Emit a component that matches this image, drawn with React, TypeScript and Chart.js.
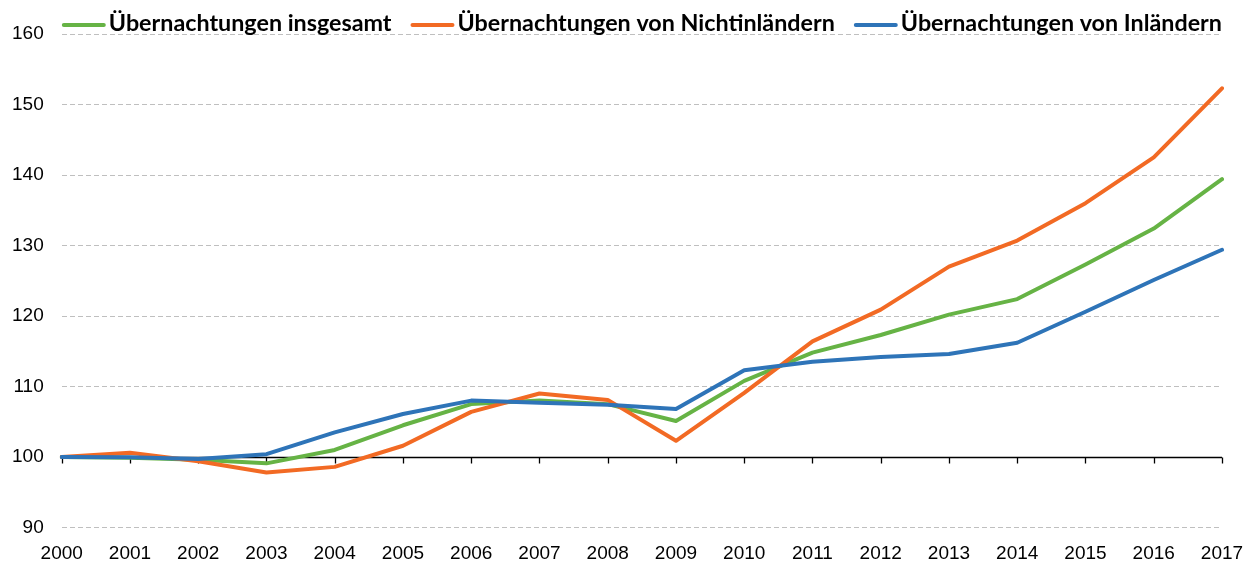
import React, { useEffect, useRef } from "react";
import { Chart, registerables } from "chart.js";

Chart.register(...registerables);

const years = [
  "2000", "2001", "2002", "2003", "2004", "2005", "2006", "2007", "2008",
  "2009", "2010", "2011", "2012", "2013", "2014", "2015", "2016", "2017",
];
const insgesamt = [100, 99.9, 99.6, 99.1, 101.0, 104.5, 107.5, 108.0, 107.5, 105.1, 110.8, 114.8, 117.3, 120.2, 122.4, 127.3, 132.4, 139.4];
const nichtinlaender = [100, 100.6, 99.4, 97.8, 98.6, 101.6, 106.4, 109.0, 108.1, 102.3, 109.1, 116.4, 120.9, 127.0, 130.7, 136.0, 142.5, 152.3];
const inlaender = [100, 99.95, 99.7, 100.4, 103.5, 106.1, 108.0, 107.7, 107.4, 106.8, 112.3, 113.5, 114.2, 114.6, 116.2, 120.6, 125.1, 129.4];
const seriesLabels = [
  "Übernachtungen insgesamt",
  "Übernachtungen von Nichtinländern",
  "Übernachtungen von Inländern",
];
const seriesColors = ["#66B345", "#F26A24", "#2E74B8"];
const yMin = 90;
const yMax = 160;
const yStep = 10;
const baseValue = 100;

const LEGEND_FONT = "bold 23.3px Lato, 'Open Sans', sans-serif";
const LEGEND_LINE = 44;
const LEGEND_TEXT_GAP = 3;
const LEGEND_ITEM_GAP = 19;

const legendPlugin = {
  id: "excelLegend",
  afterDraw(chart: any) {
    const ctx = chart.ctx as CanvasRenderingContext2D;
    const area = chart.chartArea;
    ctx.save();
    ctx.font = LEGEND_FONT;
    const items = chart.data.datasets.map((ds: any) => ({
      label: ds.label as string,
      color: ds.borderColor as string,
      w: LEGEND_LINE + LEGEND_TEXT_GAP + ctx.measureText(ds.label).width,
    }));
    const total =
      items.reduce((s: number, i: any) => s + i.w, 0) + LEGEND_ITEM_GAP * (items.length - 1);
    let x = (area.left + area.right) / 2 - total / 2;
    const y = area.top - 11;
    items.forEach((it: any) => {
      ctx.beginPath();
      ctx.strokeStyle = it.color;
      ctx.lineWidth = 4;
      ctx.lineCap = "round";
      ctx.moveTo(x + 2, y + 2);
      ctx.lineTo(x + LEGEND_LINE - 2, y + 2);
      ctx.stroke();
      ctx.fillStyle = "#000";
      ctx.textBaseline = "middle";
      ctx.textAlign = "left";
      ctx.fillText(it.label, x + LEGEND_LINE + LEGEND_TEXT_GAP, y);
      x += it.w + LEGEND_ITEM_GAP;
    });
    ctx.restore();
  },
};

// Horizontal axis line crossing at the base value, with tick marks at each category
const baseAxisPlugin = {
  id: "baseAxis",
  beforeDatasetsDraw(chart: any) {
    const ctx = chart.ctx as CanvasRenderingContext2D;
    const xs = chart.scales.x;
    const ys = chart.scales.y;
    const yPix = Math.round(ys.getPixelForValue(baseValue)) + 0.5;
    ctx.save();
    ctx.strokeStyle = "#000";
    ctx.lineWidth = 1.5;
    ctx.beginPath();
    ctx.moveTo(xs.left, yPix);
    ctx.lineTo(xs.right, yPix);
    ctx.stroke();
    ctx.lineWidth = 1.3;
    ctx.beginPath();
    for (let i = 0; i < years.length; i++) {
      const px = Math.round(xs.getPixelForValue(i)) + 0.5;
      ctx.moveTo(px, yPix);
      ctx.lineTo(px, yPix + 6);
    }
    ctx.stroke();
    ctx.restore();
  },
};

export default function App() {
  const ref = useRef<HTMLCanvasElement | null>(null);

  useEffect(() => {
    document.body.style.margin = "0";
    const canvas = ref.current;
    if (!canvas) return;
    const family = "'Liberation Sans', Arial, sans-serif";
    const chart = new Chart(canvas, {
      type: "line",
      data: {
        labels: years,
        datasets: [
          { label: seriesLabels[0], data: insgesamt, borderColor: seriesColors[0], order: 3 },
          { label: seriesLabels[1], data: nichtinlaender, borderColor: seriesColors[1], order: 2 },
          { label: seriesLabels[2], data: inlaender, borderColor: seriesColors[2], order: 1 },
        ].map((d) => ({
          ...d,
          backgroundColor: d.borderColor,
          borderWidth: 4,
          pointRadius: 0,
          tension: 0,
          fill: false,
          borderJoinStyle: "round" as const,
          borderCapStyle: "round" as const,
        })),
      },
      options: {
        responsive: false,
        animation: false,
        devicePixelRatio: 1,
        layout: { padding: { top: 34, left: -6, right: 25, bottom: -19 } },
        plugins: { legend: { display: false }, tooltip: { enabled: false } },
        scales: {
          x: {
            type: "category",
            position: "bottom",
            grid: { display: false, drawTicks: false },
            border: { display: false },
            ticks: {
              font: { family, size: 19, lineHeight: 2.5 },
              color: "#000",
              padding: 3,
              maxRotation: 0,
              autoSkip: false,
            },
          },
          y: {
            min: yMin,
            max: yMax,
            ticks: { stepSize: yStep, font: { family, size: 19 }, color: "#000", padding: 18 },
            grid: { color: "#BFBFBF", lineWidth: 1, drawTicks: false },
            border: { display: false, dash: [5, 3] },
          },
        },
      },
      plugins: [baseAxisPlugin, legendPlugin],
    });
    return () => chart.destroy();
  }, []);

  return (
    <div style={{ width: 1247, height: 562 }}>
      <canvas ref={ref} width={1247} height={562} />
    </div>
  );
}
